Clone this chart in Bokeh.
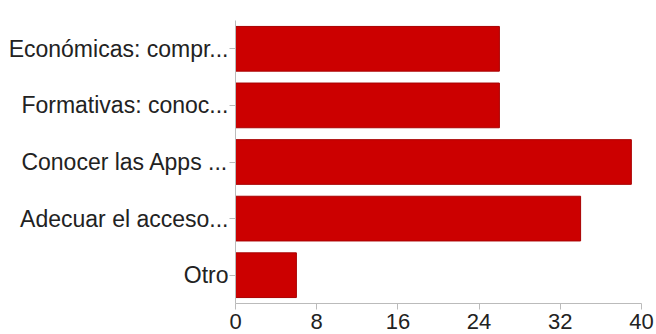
from bokeh.plotting import figure
from bokeh.models import FactorRange, Range1d, FixedTicker
from bokeh.embed import file_html
from bokeh.resources import INLINE

categories = ["Económicas: compr...", "Formativas: conoc...", "Conocer las Apps ...",
              "Adecuar el acceso...", "Otro"]
values = [26, 26, 39, 34, 6]
x_ticks = [0, 8, 16, 24, 32, 40]

p = figure(width=656, height=334, output_backend="svg", toolbar_location=None,
           y_range=FactorRange(factors=list(reversed(categories))),
           x_range=Range1d(0, 40))
p.min_border_left = 235
p.min_border_right = 15
p.min_border_top = 20
p.min_border_bottom = 31
p.outline_line_color = None
p.xgrid.grid_line_color = None
p.ygrid.grid_line_color = None
p.background_fill_color = "white"
p.border_fill_color = "white"

p.hbar(y=categories, right=values, left=0, height=0.79,
       fill_color="#cc0000", line_color="#a80000", line_width=1)

for ax in (p.xaxis[0], p.yaxis[0]):
    ax.axis_line_color = "#bbbbbb"
    ax.major_tick_line_color = "#bbbbbb"
    ax.minor_tick_line_color = None
    ax.major_tick_in = 0
    ax.major_tick_out = 6
    ax.major_label_text_font = "Liberation Sans"
    ax.major_label_text_color = "#222222"

p.xaxis.ticker = FixedTicker(ticks=x_ticks)
p.xaxis.major_label_text_font_size = "22px"
p.xaxis.major_label_standoff = 4
p.yaxis.major_label_text_font_size = "23px"
p.yaxis.major_label_standoff = 1

open("out.html", "w").write(file_html(p, INLINE))
